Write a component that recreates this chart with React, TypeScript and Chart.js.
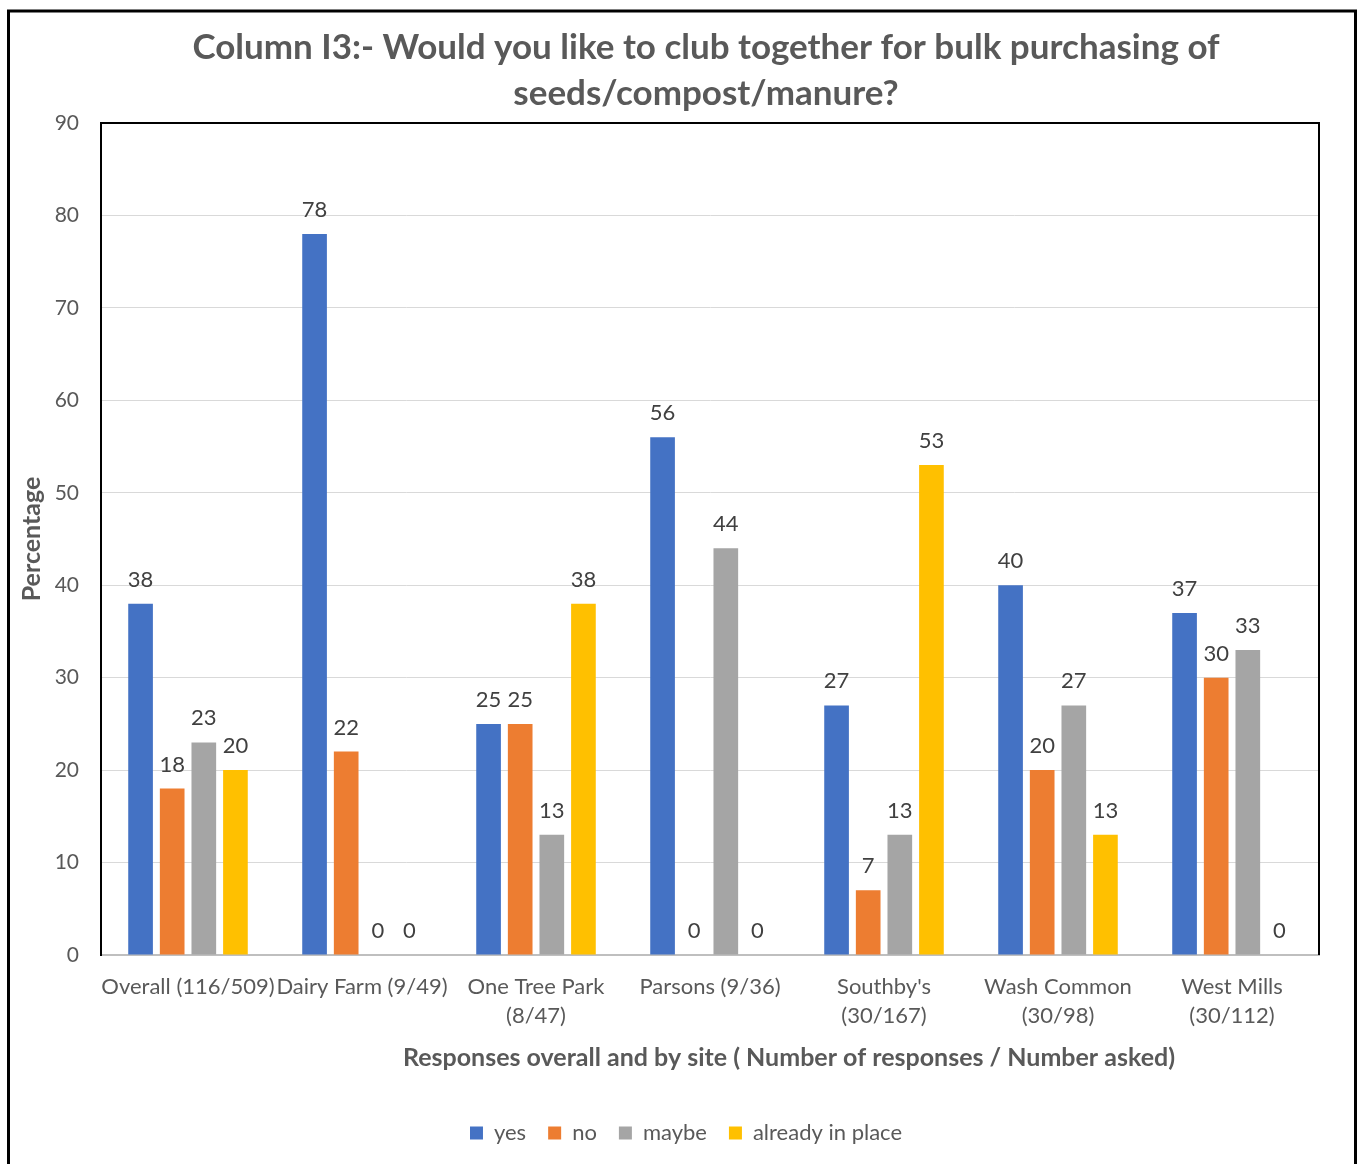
import React, { useEffect, useRef } from "react";
import { Chart, registerables } from "chart.js";

Chart.register(...registerables);

const categories: string[][] = [
  ["Overall (116/509)"],
  ["Dairy Farm (9/49)"],
  ["One Tree Park", "(8/47)"],
  ["Parsons (9/36)"],
  ["Southby's", "(30/167)"],
  ["Wash Common", "(30/98)"],
  ["West Mills", "(30/112)"],
];
const yesValues = [38, 78, 25, 56, 27, 40, 37];
const noValues = [18, 22, 25, 0, 7, 20, 30];
const maybeValues = [23, 0, 13, 44, 13, 27, 33];
const alreadyValues = [20, 0, 38, 0, 53, 13, 0];
const seriesNames = ["yes", "no", "maybe", "already in place"];
const seriesColors = ["#4472C4", "#ED7D31", "#A5A5A5", "#FFC000"];
const titleLines = [
  "Column I3:- Would you like to club together for bulk purchasing of",
  "seeds/compost/manure?",
];
const xAxisTitle = "Responses overall and by site ( Number of responses / Number asked)";
const yAxisTitle = "Percentage";
const yMin = 0;
const yMax = 90;
const yStep = 10;

const FONT = "Lato";
const TEXT = "#595959";

const decorPlugin = {
  id: "decor",
  beforeDraw(chart: any) {
    const { ctx, width, height } = chart;
    ctx.save();
    ctx.fillStyle = "#ffffff";
    ctx.fillRect(0, 0, width, height);
    ctx.restore();
  },
  afterDatasetsDraw(chart: any) {
    const ctx = chart.ctx;
    ctx.save();
    ctx.font = `22px ${FONT}`;
    ctx.fillStyle = "#404040";
    ctx.textAlign = "center";
    ctx.textBaseline = "alphabetic";
    chart.data.datasets.forEach((ds: any, i: number) => {
      const meta = chart.getDatasetMeta(i);
      meta.data.forEach((bar: any, j: number) => {
        ctx.fillText(String(ds.data[j]), bar.x, bar.y - 17);
      });
    });
    ctx.restore();
  },
  afterDraw(chart: any) {
    const { ctx, chartArea: a } = chart;
    ctx.save();
    // plot frame top/right
    ctx.strokeStyle = "#000000";
    ctx.lineWidth = 2;
    ctx.beginPath();
    ctx.moveTo(a.left, a.top);
    ctx.lineTo(a.right, a.top);
    ctx.lineTo(a.right, a.bottom);
    ctx.stroke();
    // outer frame
    ctx.lineWidth = 3;
    ctx.beginPath();
    ctx.moveTo(8.5, 1170);
    ctx.lineTo(8.5, 11);
    ctx.lineTo(1355.5, 11);
    ctx.lineTo(1355.5, 1170);
    ctx.stroke();
    // title
    ctx.fillStyle = TEXT;
    ctx.textAlign = "center";
    ctx.textBaseline = "middle";
    ctx.font = `bold 35px ${FONT}`;
    ctx.fillText(titleLines[0], 706, 48);
    ctx.fillText(titleLines[1], 706, 94);
    // x axis title
    ctx.font = `bold 25px ${FONT}`;
    ctx.fillText(xAxisTitle, 789, 1058);
    // y axis title
    ctx.translate(32, (a.top + a.bottom) / 2);
    ctx.rotate(-Math.PI / 2);
    ctx.font = `bold 25px ${FONT}`;
    ctx.fillText(yAxisTitle, 0, 0);
    ctx.restore();
  },
};

export default function App() {
  const ref = useRef<HTMLCanvasElement | null>(null);
  useEffect(() => {
    if (!ref.current) return;
    const values = [yesValues, noValues, maybeValues, alreadyValues];
    const chart = new Chart(ref.current, {
      type: "bar",
      data: {
        labels: categories,
        datasets: seriesNames.map((name, i) => ({
          label: name,
          data: values[i],
          backgroundColor: seriesColors[i],
          borderWidth: 0,
          barPercentage: 0.78,
          categoryPercentage: 0.727,
        })),
      },
      options: {
        responsive: false,
        animation: false,
        layout: { padding: { top: 123, right: 41, bottom: 10, left: 53 } },
        plugins: {
          title: { display: false },
          tooltip: { enabled: false },
          legend: {
            position: "bottom",
            labels: {
              boxWidth: 13,
              boxHeight: 13,
              padding: 22,
              color: TEXT,
              font: { family: FONT, size: 22 },
            },
          },
        },
        scales: {
          x: {
            grid: { display: false, drawTicks: false },
            border: { display: true, color: "#BFBFBF", width: 2 },
            ticks: {
              color: TEXT,
              font: { family: FONT, size: 22, lineHeight: 1.32 },
              padding: 17,
              autoSkip: false,
              maxRotation: 0,
              minRotation: 0,
            },
            afterFit: (s: any) => {
              s.height = 145;
            },
          },
          y: {
            min: yMin,
            max: yMax,
            ticks: {
              stepSize: yStep,
              color: TEXT,
              font: { family: FONT, size: 21 },
              padding: 22,
            },
            grid: { color: "#D9D9D9", lineWidth: 1, drawTicks: false },
            border: { color: "#000000", width: 2 },
            afterFit: (s: any) => {
              s.width = 48;
            },
          },
        },
      },
      plugins: [decorPlugin],
    });
    return () => chart.destroy();
  }, []);
  return (
    <div style={{ position: "fixed", left: 0, top: 0, width: 1360, height: 1164, background: "#fff" }}>
      <canvas ref={ref} width={1360} height={1164} style={{ display: "block", width: 1360, height: 1164 }} />
    </div>
  );
}
